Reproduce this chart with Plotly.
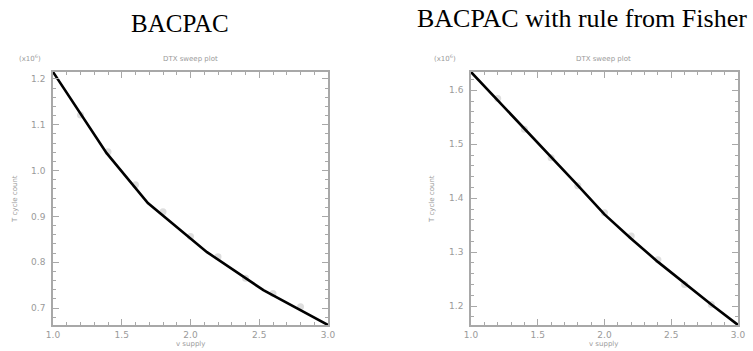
import plotly.graph_objects as go

W, H = 753, 351

# ---- data ----
left_line_x = [1.0, 1.39, 1.69, 2.12, 2.53, 3.0]
left_line_y = [1.215, 1.038, 0.929, 0.822, 0.739, 0.663]
left_pts_x = [1.2, 1.4, 1.6, 1.8, 2.0, 2.2, 2.4, 2.6, 2.8]
left_pts_y = [1.121, 1.041, 0.969, 0.910, 0.856, 0.812, 0.765, 0.732, 0.703]

right_line_x = [1.0, 1.2, 1.4, 1.6, 1.8, 2.0, 2.2, 2.4, 2.6, 2.8, 3.0]
right_line_y = [1.634, 1.582, 1.530, 1.478, 1.424, 1.370, 1.325, 1.282, 1.242, 1.203, 1.165]
right_pts_x = [1.2, 1.4, 1.6, 1.8, 2.0, 2.2, 2.4, 2.6, 2.8]
right_pts_y = [1.585, 1.528, 1.475, 1.423, 1.373, 1.330, 1.286, 1.240, 1.203]

titles = ["BACPAC", "BACPAC with rule from Fisher"]
inner_title = "DTX sweep plot"
x_title = "v supply"
y_title = "T cycle count"
scale_label = "(x10<sup>6</sup>)"

def px_x(v):
    return v / W

def px_y(v):
    return 1 - v / H

GRAY = "#a8a8a8"
TXT = "#9a9a9a"

fig = go.Figure()

fig.add_trace(go.Scatter(x=left_pts_x, y=left_pts_y, mode="markers",
                         marker=dict(size=7, color="#dedede"),
                         xaxis="x", yaxis="y", showlegend=False))
fig.add_trace(go.Scatter(x=left_line_x, y=left_line_y, mode="lines",
                         line=dict(color="black", width=2.6),
                         xaxis="x", yaxis="y", showlegend=False))
fig.add_trace(go.Scatter(x=right_pts_x, y=right_pts_y, mode="markers",
                         marker=dict(size=7, color="#dedede"),
                         xaxis="x2", yaxis="y2", showlegend=False))
fig.add_trace(go.Scatter(x=right_line_x, y=right_line_y, mode="lines",
                         line=dict(color="black", width=2.6),
                         xaxis="x2", yaxis="y2", showlegend=False))

def xaxis(domain, anchor):
    return dict(domain=domain, anchor=anchor, range=[1.0, 3.0], automargin=False,
                tickmode="linear", tick0=1.0, dtick=0.5, tickformat=".1f",
                ticks="inside", ticklen=6, tickwidth=1, tickcolor=GRAY,
                minor=dict(ticks="inside", tick0=1.0, dtick=0.1, ticklen=3,
                           tickcolor=GRAY, tickwidth=1),
                showline=True, linecolor=GRAY, linewidth=1.5, mirror="allticks",
                showgrid=False, zeroline=False,
                tickfont=dict(family="DejaVu Sans", size=9, color=TXT))

def yaxis(domain, anchor, rng, t0):
    return dict(domain=domain, anchor=anchor, range=rng, automargin=False,
                tickmode="linear", tick0=t0, dtick=0.1, tickformat=".1f",
                ticks="inside", ticklen=6, tickwidth=1, tickcolor=GRAY,
                minor=dict(ticks="inside", tick0=t0, dtick=0.02, ticklen=3,
                           tickcolor=GRAY, tickwidth=1),
                showline=True, linecolor=GRAY, linewidth=1.5, mirror="allticks",
                showgrid=False, zeroline=False,
                ticklabelstandoff=4,
                tickfont=dict(family="DejaVu Sans", size=9, color=TXT))

L = dict(x0=53, x1=328, y0=72, y1=325)
R = dict(x0=471, x1=738, y0=72, y1=325)

fig.update_layout(
    width=W, height=H,
    margin=dict(l=0, r=0, t=0, b=0),
    paper_bgcolor="white", plot_bgcolor="white",
    xaxis=xaxis([px_x(L["x0"]), px_x(L["x1"])], "y"),
    yaxis=yaxis([px_y(L["y1"]), px_y(L["y0"])], "x", [0.663, 1.215], 0.7),
    xaxis2=xaxis([px_x(R["x0"]), px_x(R["x1"])], "y2"),
    yaxis2=yaxis([px_y(R["y1"]), px_y(R["y0"])], "x2", [1.165, 1.634], 1.2),
)

ann = []
ann.append(dict(text=titles[0], x=px_x(180), y=px_y(39), xref="paper", yref="paper",
                xanchor="center", yanchor="bottom", showarrow=False,
                font=dict(family="Liberation Serif", size=25, color="black")))
ann.append(dict(text=titles[1], x=px_x(582), y=px_y(35), xref="paper", yref="paper",
                xanchor="center", yanchor="bottom", showarrow=False,
                font=dict(family="Liberation Serif", size=26, color="black")))
for cx, sx, xt in [(190, 30, 190), (603, 445, 603)]:
    ann.append(dict(text=inner_title, x=px_x(cx), y=px_y(59), xref="paper", yref="paper",
                    xanchor="center", yanchor="middle", showarrow=False,
                    font=dict(family="DejaVu Sans", size=7, color=TXT)))
    ann.append(dict(text=scale_label, x=px_x(sx), y=px_y(58), xref="paper", yref="paper",
                    xanchor="center", yanchor="middle", showarrow=False,
                    font=dict(family="DejaVu Sans", size=7, color=TXT)))
    ann.append(dict(text=x_title, x=px_x(xt), y=px_y(344), xref="paper", yref="paper",
                    xanchor="center", yanchor="middle", showarrow=False,
                    font=dict(family="DejaVu Sans", size=7, color=TXT)))
for cx in [15, 432]:
    ann.append(dict(text=y_title, x=px_x(cx), y=px_y(199), xref="paper", yref="paper",
                    xanchor="center", yanchor="middle", showarrow=False, textangle=-90,
                    font=dict(family="DejaVu Sans", size=7, color=TXT)))
fig.update_layout(annotations=ann)

fig.write_html("out.html", config={"displayModeBar": False},
               post_script="document.body.style.margin='0';document.body.style.padding='0';")
